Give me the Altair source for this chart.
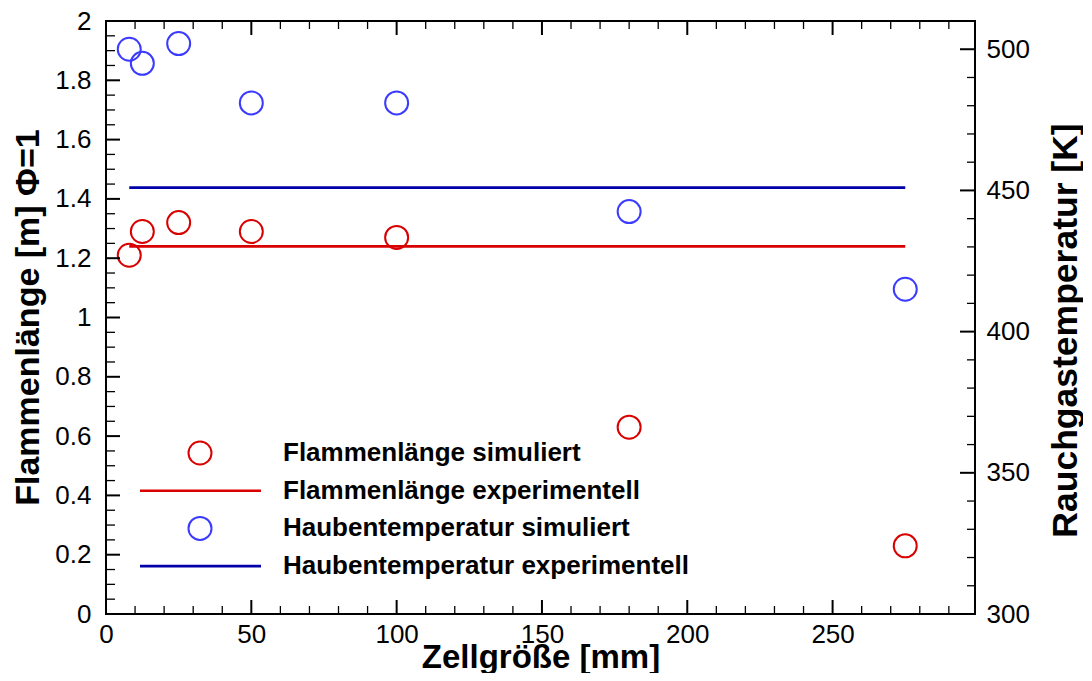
import altair as alt
import pandas as pd

# ---- data ----
CELL = [8, 12.5, 25, 50, 100, 180, 275]
FLAME_SIM = [1.21, 1.29, 1.32, 1.29, 1.27, 0.63, 0.23]
TEMP_SIM = [500, 495, 502, 481, 481, 442.5, 415]
EXP_X = [8, 275]
FLAME_EXP = [1.24, 1.24]
TEMP_EXP = [451, 451]

LEGEND_LABELS = [
    "Flammenlänge simuliert",
    "Flammenlänge experimentell",
    "Haubentemperatur simuliert",
    "Haubentemperatur experimentell",
]

X_LABELS = [0, 50, 100, 150, 200, 250]
Y_LABELS = [0, 0.2, 0.4, 0.6, 0.8, 1, 1.2, 1.4, 1.6, 1.8, 2]
T_LABELS = [300, 350, 400, 450, 500]

X_MINOR = [v for v in range(10, 300, 10) if v % 50]
Y_MINOR = [round(0.05 * i, 2) for i in range(1, 40) if i % 4]
T_MINOR = [v for v in range(310, 510, 10) if v % 50]

# ---- style ----
FONT = "Liberation Sans"
RED = "#d90000"
BLUE_PT = "#3b3bff"
BLUE_LINE = "#0000a8"
W, H = 869, 593

xs = alt.Scale(domain=[0, 299], nice=False, zero=False)
ys = alt.Scale(domain=[0, 2], nice=False, zero=False)
ts = alt.Scale(domain=[300, 510], nice=False, zero=False)

common_axis = dict(ticks=False, domain=False, grid=False, labelFont=FONT, labelFontSize=26,
                   labelColor="black", labelFlush=False, labelOverlap=False,
                   titleFont=FONT, titleFontWeight="bold", titleColor="black")

xaxis = alt.Axis(values=X_LABELS, format="d", labelPadding=7, title="Zellgröße [mm]",
                 titleFontSize=33, titleY=53, titleBaseline="alphabetic", **common_axis)
yaxis = alt.Axis(values=Y_LABELS, format="~g", labelPadding=15, title="Flammenlänge [m] Φ=1",
                 titleFontSize=34, titleAngle=270, titleX=-68, titleY=296, titleAlign="center",
                 titleBaseline="alphabetic", **common_axis)
taxis = alt.Axis(orient="right", values=T_LABELS, format="d", labelPadding=11,
                 title="Rauchgastemperatur [K]", titleFontSize=35.5, titleAngle=270, titleX=101,
                 titleY=309, titleAlign="center", titleBaseline="alphabetic", **common_axis)


def X(field):
    return alt.X(f"{field}:Q", scale=xs, axis=xaxis)


def Y(field):
    return alt.Y(f"{field}:Q", scale=ys, axis=yaxis)


def T(field):
    return alt.Y(f"{field}:Q", scale=ts, axis=taxis)


df_red = pd.DataFrame({"x": CELL, "y": FLAME_SIM})
df_blue = pd.DataFrame({"x": CELL, "t": TEMP_SIM})
df_red_exp = pd.DataFrame({"x": EXP_X, "y": FLAME_EXP})
df_blue_exp = pd.DataFrame({"x": EXP_X, "t": TEMP_EXP})

red_pts = alt.Chart(df_red).mark_point(shape="circle", size=529, filled=False, color=RED,
                                        strokeWidth=2, opacity=1).encode(x=X("x"), y=Y("y"))
red_line = alt.Chart(df_red_exp).mark_line(color=RED, strokeWidth=2.6).encode(x=X("x"), y=Y("y"))


def tick_layer(values, side, length, width):
    df = pd.DataFrame({"v": values})
    c = alt.Chart(df).mark_rule(color="black", strokeWidth=width)
    if side == "bottom":
        return c.encode(x=X("v"), y=alt.value(H), y2=alt.value(H - length))
    if side == "top":
        return c.encode(x=X("v"), y=alt.value(0), y2=alt.value(length))
    if side == "left":
        return c.encode(y=Y("v"), x=alt.value(0), x2=alt.value(length))
    return c.encode(y=T("v"), x=alt.value(W), x2=alt.value(W - length))


left_layers = [red_pts, red_line,
               tick_layer(X_LABELS, "bottom", 14, 2), tick_layer(X_MINOR, "bottom", 8, 1.3),
               tick_layer(X_LABELS, "top", 14, 2), tick_layer(X_MINOR, "top", 8, 1.3),
               tick_layer(Y_LABELS, "left", 14, 2), tick_layer(Y_MINOR, "left", 9, 1.3)]

# manual legend
LEG_TOP = 432
LEG_STEP = 37.7
dummy = alt.Data(values=[{}])
for i, lab in enumerate(LEGEND_LABELS):
    yy = LEG_TOP + i * LEG_STEP
    is_red = i < 2
    if i % 2 == 0:
        sym = alt.Chart(dummy).mark_point(shape="circle", size=529, filled=False, strokeWidth=2,
                                          opacity=1, color=RED if is_red else BLUE_PT).encode(
            x=alt.value(94), y=alt.value(yy))
    else:
        sym = alt.Chart(dummy).mark_rule(strokeWidth=2.6, color=RED if is_red else BLUE_LINE).encode(
            x=alt.value(34), x2=alt.value(155), y=alt.value(yy))
    txt = alt.Chart(dummy).mark_text(align="left", baseline="middle", font=FONT, fontSize=26,
                                     fontWeight="bold", color="black").encode(
        x=alt.value(177), y=alt.value(yy), text=alt.value(lab))
    left_layers += [sym, txt]

left = alt.layer(*left_layers)

blue_pts = alt.Chart(df_blue).mark_point(shape="circle", size=529, filled=False, color=BLUE_PT,
                                          strokeWidth=2, opacity=1).encode(x=X("x"), y=T("t"))
blue_line = alt.Chart(df_blue_exp).mark_line(color=BLUE_LINE, strokeWidth=2.6).encode(x=X("x"), y=T("t"))
right = alt.layer(blue_pts, blue_line, tick_layer(T_LABELS, "right", 15, 2),
                  tick_layer(T_MINOR, "right", 8, 1.3))

chart = alt.layer(left, right).resolve_scale(y="independent").properties(
    width=W, height=H,
    autosize=alt.AutoSizeParams(type="none"),
    padding={"left": 98, "top": 13, "right": 108, "bottom": 59},
    background="white",
).configure_view(stroke="black", strokeWidth=2)

chart.save("out.html", embed_options={"renderer": "svg", "actions": False})
